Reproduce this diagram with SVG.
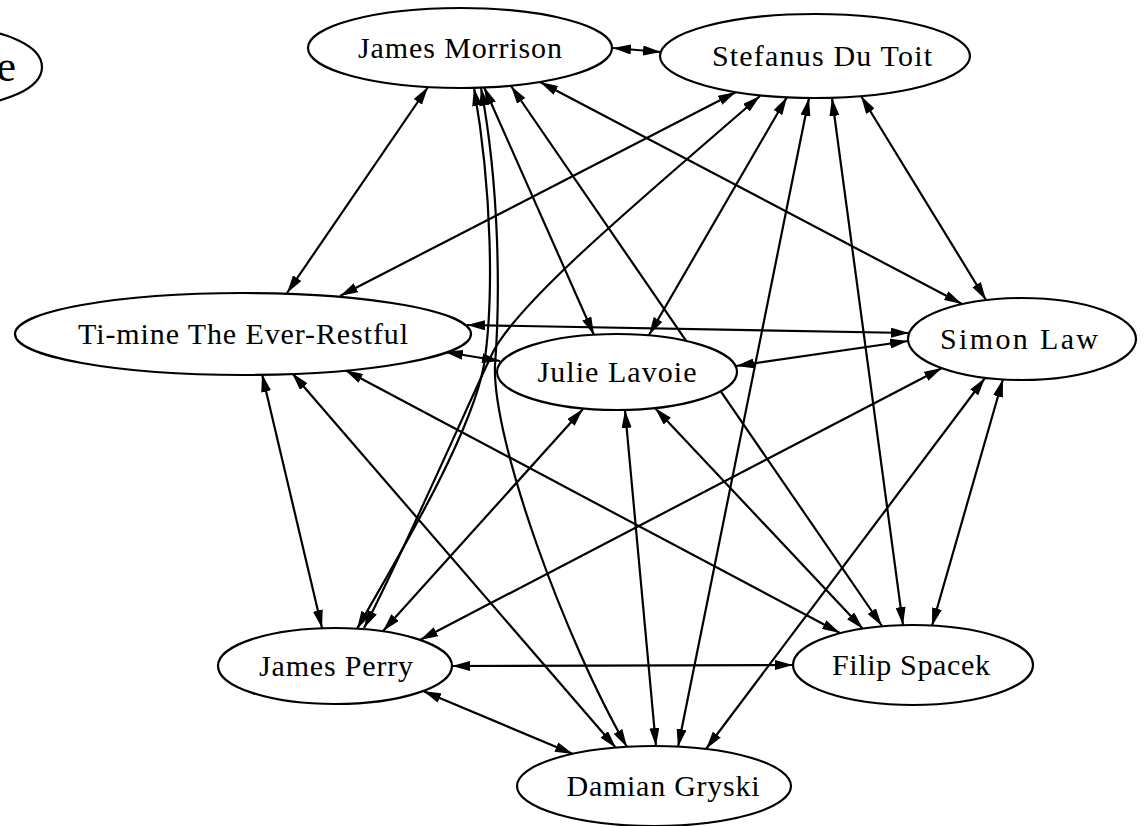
<svg xmlns="http://www.w3.org/2000/svg" width="1148" height="826" viewBox="0 0 1148 826">
<defs>
<marker id="ah" markerUnits="userSpaceOnUse" markerWidth="18" markerHeight="10" refX="18" refY="5" orient="auto-start-reverse" viewBox="0 0 18 10">
<path d="M0,0 L18,5 L0,10 z" fill="#000"/>
</marker>
<style>
.node ellipse{fill:#fff;stroke:#000;stroke-width:2.2}
.node text{font-family:"Liberation Serif","Times New Roman",serif;font-size:30px;fill:#000;text-anchor:middle}
.edges path{fill:none;stroke:#000;stroke-width:2.2;marker-start:url(#ah);marker-end:url(#ah)}
</style>
</defs>
<rect width="1148" height="826" fill="#fff"/>
<g class="edges" id="edges">
<path d="M613,48 L661,52"/>
<path d="M428,87 L287,293"/>
<path d="M484,87 L594,335"/>
<path d="M540,82 L962,304"/>
<path d="M474,88 C492,190 494,300 484,365 C470,440 390,570 357,629"/>
<path d="M511,86 L882,626"/>
<path d="M481,88 C500,190 500,300 495,365 C492,440 565,640 627,747"/>
<path d="M736,92 L340,296"/>
<path d="M760,96 C640,200 520,300 493,352 C470,400 400,560 364,628"/>
<path d="M787,97 L649,335"/>
<path d="M861,96 L986,300"/>
<path d="M832,98 L903,625"/>
<path d="M809,98 L678,747"/>
<path d="M445,352 L500,361"/>
<path d="M467,325 L909,333"/>
<path d="M262,374 L322,628"/>
<path d="M345,370 L840,633"/>
<path d="M292,373 L616,748"/>
<path d="M736,366 L908,341"/>
<path d="M583,409 L383,631"/>
<path d="M655,408 L863,629"/>
<path d="M625,410 L656,746"/>
<path d="M942,368 L420,640"/>
<path d="M1003,379 L932,626"/>
<path d="M985,378 L706,749"/>
<path d="M452,666 L793,665"/>
<path d="M423,691 L573,754"/>
</g>
<g class="node" id="partial">
<ellipse cx="-40" cy="67" rx="82" ry="38"/>
<text x="16" y="81" style="text-anchor:end;font-size:44px">e</text>
</g>
<g class="node" id="james-morrison">
<ellipse cx="460" cy="48" rx="152" ry="40"/>
<text x="460" y="58" textLength="204" lengthAdjust="spacing">James Morrison</text>
</g>
<g class="node" id="stefanus-du-toit">
<ellipse cx="815" cy="56" rx="155" ry="42"/>
<text x="822" y="66" textLength="220" lengthAdjust="spacing">Stefanus Du Toit</text>
</g>
<g class="node" id="ti-mine">
<ellipse cx="243" cy="334" rx="228" ry="41"/>
<text x="243" y="344" textLength="330" lengthAdjust="spacing">Ti-mine The Ever-Restful</text>
</g>
<g class="node" id="julie-lavoie">
<ellipse cx="617" cy="372" rx="120" ry="38"/>
<text x="617" y="382" textLength="159" lengthAdjust="spacing">Julie Lavoie</text>
</g>
<g class="node" id="simon-law">
<ellipse cx="1022" cy="339" rx="114" ry="41"/>
<text x="1019" y="349" textLength="158" lengthAdjust="spacing">Simon Law</text>
</g>
<g class="node" id="james-perry">
<ellipse cx="335" cy="666" rx="117" ry="38"/>
<text x="336" y="676" textLength="154" lengthAdjust="spacing">James Perry</text>
</g>
<g class="node" id="filip-spacek">
<ellipse cx="913" cy="665" rx="120" ry="40"/>
<text x="911" y="675" textLength="158" lengthAdjust="spacing">Filip Spacek</text>
</g>
<g class="node" id="damian-gryski">
<ellipse cx="654" cy="786" rx="137" ry="40"/>
<text x="663" y="796" textLength="193" lengthAdjust="spacing">Damian Gryski</text>
</g>
</svg>
